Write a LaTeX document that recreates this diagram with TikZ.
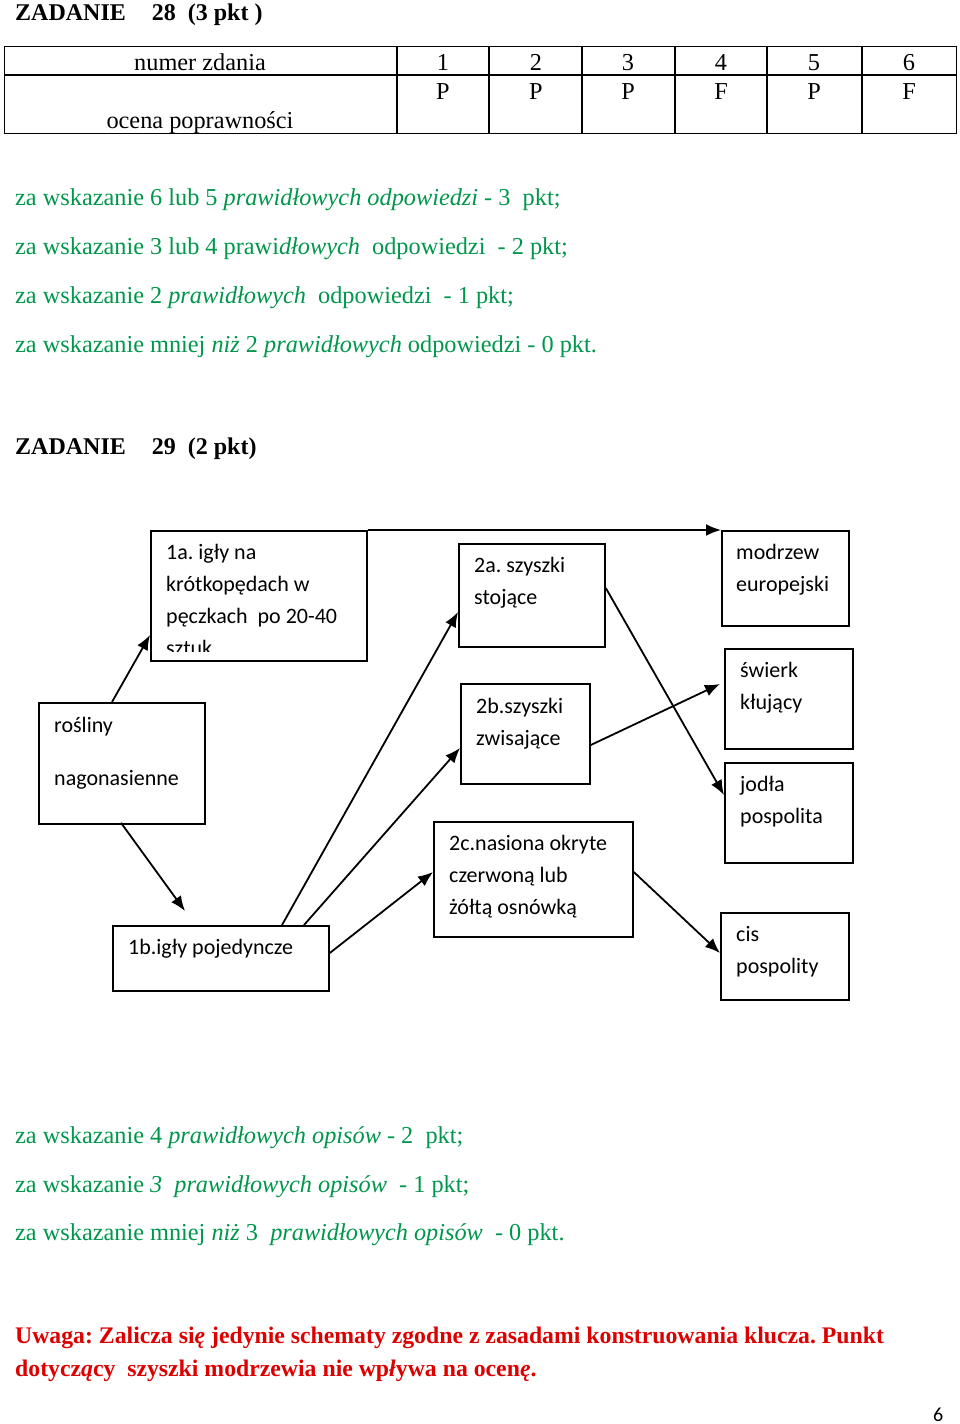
\documentclass[tikz,border=0pt]{standalone}
\usepackage{fontspec}
\setmainfont{Liberation Serif}
\newfontfamily\calfont{Carlito}
\usetikzlibrary{arrows.meta}
\definecolor{kgreen}{RGB}{0,150,75}
\definecolor{kred}{RGB}{220,0,0}
\frenchspacing
\begin{document}
\begin{tikzpicture}[x=1pt,y=-1pt,
  txt/.style={anchor=west, inner sep=0pt, font=\fontsize{24.3}{28}\selectfont, text height=20pt, text depth=4pt},
  ctxt/.style={txt, anchor=center},
  gtxt/.style={txt, text=kgreen},
  rtxt/.style={txt, text=kred, font=\fontsize{23.75}{28}\selectfont\bfseries},
  ttl/.style={txt, font=\fontsize{24}{28}\selectfont\bfseries},
  btxt/.style={anchor=west, inner sep=0pt, font=\calfont\fontsize{22}{26}\selectfont, text height=18.5pt, text depth=3.5pt},
  box/.style={draw, line width=1.8pt, inner sep=0pt, anchor=north west},
  arr/.style={line width=1.8pt, -{Latex[length=15pt,width=12pt]}},
  tline/.style={line width=1.3pt}
]
\useasboundingbox (0,0) rectangle (960,1424);

% ---------- ZADANIE 28 ----------
\node[ttl] (z28) at (15,12) {ZADANIE\hspace{26pt}28\hspace{12pt}(3 pkt )};

\node[inner sep=0pt, anchor=north west, minimum width=952pt, minimum height=87pt, draw, line width=1.3pt] (tab) at (4,46) {};
\draw[tline] (tab.west |- 0,75) -- (tab.east |- 0,75);
\foreach \x in {397,489,582,675,767,862} \draw[tline] (\x,46) -- (\x,133);
\node[ctxt] (hnum) at (200,62) {numer zdania};
\node[ctxt] (hoc) at (200,120) {ocena poprawności};
\node[ctxt] (c1) at (443,62) {1};
\node[ctxt] (c2) at (536,62) {2};
\node[ctxt] (c3) at (628,62) {3};
\node[ctxt] (c4) at (721,62) {4};
\node[ctxt] (c5) at (814,62) {5};
\node[ctxt] (c6) at (909,62) {6};
\node[ctxt] (v1) at (443,91) {P};
\node[ctxt] (v2) at (536,91) {P};
\node[ctxt] (v3) at (628,91) {P};
\node[ctxt] (v4) at (721,91) {F};
\node[ctxt] (v5) at (814,91) {P};
\node[ctxt] (v6) at (909,91) {F};

\node[gtxt] (g1) at (15,197) {za wskazanie 6 lub 5 \textit{prawidłowych odpowiedzi} - 3\ \ pkt;};
\node[gtxt] (g2) at (15,246) {za wskazanie 3 lub 4 prawi\textit{dłowych}\ \ odpowiedzi\ \ - 2 pkt;};
\node[gtxt] (g3) at (15,295) {za wskazanie 2 \textit{prawidłowych}\ \ odpowiedzi\ \ - 1 pkt;};
\node[gtxt] (g4) at (15,344) {za wskazanie mniej \textit{niż} 2 \textit{prawidłowych} odpowiedzi - 0 pkt.};

% ---------- ZADANIE 29 ----------
\node[ttl] (z29) at (15,446) {ZADANIE\hspace{26pt}29\hspace{12pt}(2 pkt)};

% boxes
\node[box, minimum width=216pt, minimum height=130pt] (n1a) at (150,530) {};
\node[box, minimum width=166pt, minimum height=121pt] (ros) at (38,702) {};
\node[box, minimum width=216pt, minimum height=65pt] (n1b) at (112,925) {};
\node[box, minimum width=146pt, minimum height=103pt] (n2a) at (458,543) {};
\node[box, minimum width=129pt, minimum height=100pt] (n2b) at (460,683) {};
\node[box, minimum width=199pt, minimum height=115pt] (n2c) at (433,821) {};
\node[box, minimum width=127pt, minimum height=95pt] (mod) at (721,530) {};
\node[box, minimum width=128pt, minimum height=100pt] (swi) at (724,648) {};
\node[box, minimum width=128pt, minimum height=100pt] (jod) at (724,762) {};
\node[box, minimum width=128pt, minimum height=87pt] (cis) at (720,912) {};

% box texts
\begin{scope}
\clip (151,531) rectangle (365,651);
\node[btxt] (t1a1) at (166,552) {1a. igły na};
\node[btxt] (t1a2) at (166,584) {krótkopędach w};
\node[btxt] (t1a3) at (166,616) {pęczkach\ \ po 20-40};
\node[btxt] (t1a4) at (166,648) {sztuk};
\end{scope}
\node[btxt] (tr1) at (54,725) {rośliny};
\node[btxt] (tr2) at (54,778) {nagonasienne};
\node[btxt] (t1b) at (128,947) {1b.igły pojedyncze};
\node[btxt] (t2a1) at (474,565) {2a. szyszki};
\node[btxt] (t2a2) at (474,597) {stojące};
\node[btxt] (t2b1) at (476,706) {2b.szyszki};
\node[btxt] (t2b2) at (476,738) {zwisające};
\node[btxt] (t2c1) at (449,843) {2c.nasiona okryte};
\node[btxt] (t2c2) at (449,875) {czerwoną lub};
\node[btxt] (t2c3) at (449,907) {żółtą osnówką};
\node[btxt] (tm1) at (736,552) {modrzew};
\node[btxt] (tm2) at (736,584) {europejski};
\node[btxt] (ts1) at (740,670) {świerk};
\node[btxt] (ts2) at (740,702) {kłujący};
\node[btxt] (tj1) at (740,784) {jodła};
\node[btxt] (tj2) at (740,816) {pospolita};
\node[btxt] (tc1) at (736,934) {cis};
\node[btxt] (tc2) at (736,966) {pospolity};

% connectors
\coordinate (e1b) at ([xshift=73pt,yshift=14pt]n1b.north west);
\draw[arr] ([xshift=74pt]ros.north west) -- ([yshift=-105pt]n1a.north west);
\draw[arr] ([xshift=83pt,yshift=2pt]ros.south west) -- (e1b);
\draw[arr] ([xshift=170pt]n1b.north west) -- ([yshift=-69pt]n2a.north west);
\draw[arr] ([xshift=192pt]n1b.north west) -- ([yshift=-65pt]n2b.north west);
\draw[arr] ([yshift=-28pt]n1b.north east) -- ([yshift=-51pt]n2c.north west);
\draw[arr] (n1a.north east) -- (mod.north west);
\draw[arr] ([yshift=-45pt]n2a.north east) -- ([yshift=-33pt]jod.north west);
\draw[arr] ([yshift=-62pt]n2b.north east) -- ([xshift=-4pt,yshift=-36pt]swi.north west);
\draw[arr] ([yshift=-51pt]n2c.north east) -- ([yshift=-41pt]cis.north west);

% scoring
\node[gtxt] (b1) at (15,1135) {za wskazanie 4 \textit{prawidłowych opisów} - 2\ \ pkt;};
\node[gtxt] (b2) at (15,1184) {za wskazanie \textit{3\ \ prawidłowych opisów}\ \ - 1 pkt;};
\node[gtxt] (b3) at (15,1232) {za wskazanie mniej \textit{niż} 3\ \ \textit{prawidłowych opisów}\ \ - 0 pkt.};

\node[rtxt] (r1) at (15,1335) {Uwaga: Zalicza si\textit{ę} jedynie schematy zgodne z zasadami konstruowania klucza. Punkt};
\node[rtxt] (r2) at (15,1368) {dotycz\textit{ą}cy\ \ szyszki modrzewia nie wp\textit{ł}ywa na ocen\textit{ę}.};

\node[btxt, font=\calfont\fontsize{20}{24}\selectfont] (pg) at (933,1414) {6};
\end{tikzpicture}
\end{document}
